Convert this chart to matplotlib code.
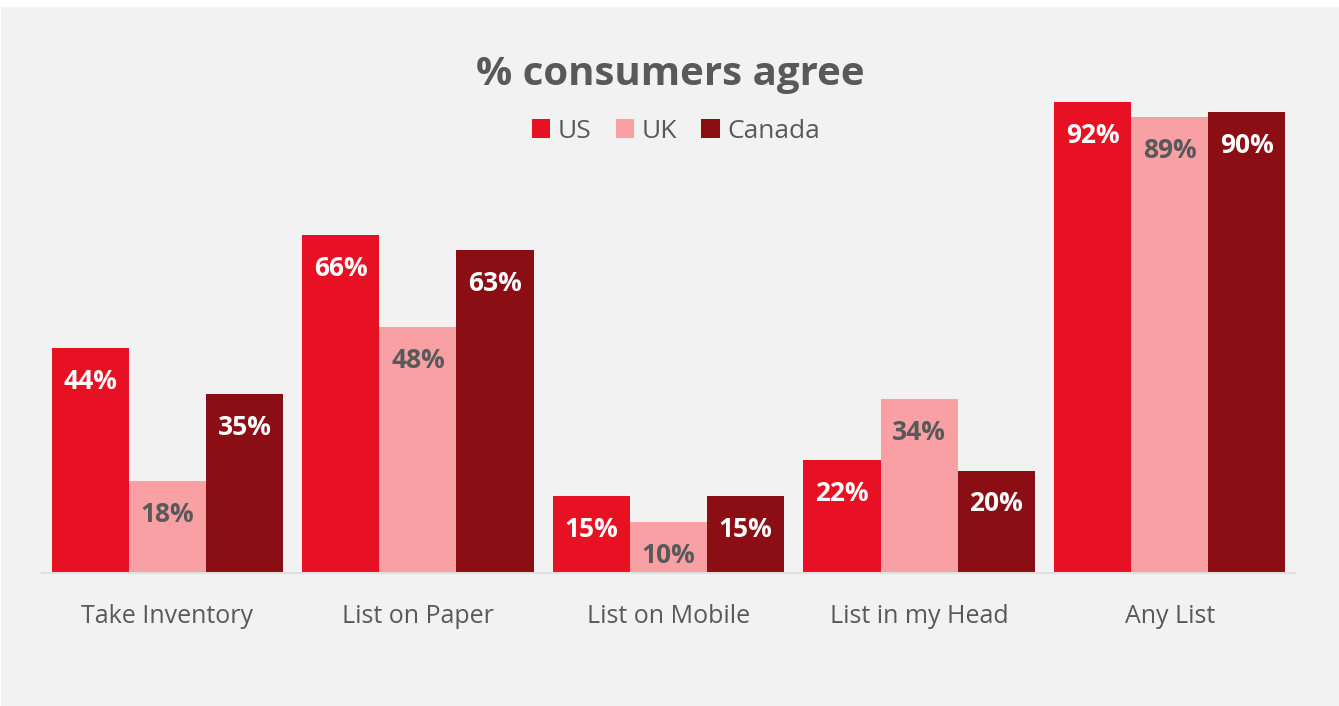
import numpy as np
import matplotlib
matplotlib.use("Agg")
import matplotlib.pyplot as plt
from matplotlib.patches import Rectangle

plt.rcParams['font.family'] = ['Open Sans', 'DejaVu Sans']

categories = ['Take Inventory', 'List on Paper', 'List on Mobile', 'List in my Head', 'Any List']
series = ['US', 'UK', 'Canada']
us = [44, 66, 15, 22, 92]
uk = [18, 48, 10, 34, 89]
canada = [35, 63, 15, 20, 90]

colors = ['#E81123', '#F8A0A4', '#8B0E14']
label_colors = ['white', '#595959', 'white']
text_grey = '#595959'

W, H = 1339, 706
fig = plt.figure(figsize=(W / 100, H / 100), dpi=100)
fig.patch.set_facecolor('white')
# grey card behind the chart
fig.patches.append(Rectangle((1 / W, 0), 1, 1 - 7 / H, transform=fig.transFigure,
                             facecolor='#F2F2F2', edgecolor='none', zorder=-10))

ax = fig.add_axes([42 / W, (H - 573) / H, (1295 - 42) / W, (573 - 61) / H])
ax.set_facecolor('none')

x = np.arange(len(categories))
width = 0.308
for i, (vals, name) in enumerate(zip([us, uk, canada], series)):
    pos = x + (i - 1) * width
    bars = ax.bar(pos, vals, width=width, color=colors[i], label=name, zorder=2)
    for b, v in zip(bars, vals):
        ax.annotate(f'{v}%', (b.get_x() + b.get_width() / 2, v),
                    xytext=(0, -24), textcoords='offset points',
                    ha='center', va='center', fontsize=19, fontweight='bold',
                    color=label_colors[i])

ax.set_xlim(-0.5, len(categories) - 0.5)
ax.set_ylim(0, 100)
ax.set_yticks([])
ax.set_xticks(x)
ax.set_xticklabels(categories, fontsize=18, color=text_grey)
ax.tick_params(axis='x', length=0, pad=22)
for s in ['top', 'right', 'left']:
    ax.spines[s].set_visible(False)
ax.spines['bottom'].set_color('#E0E0E0')
ax.spines['bottom'].set_linewidth(1.5)

fig.text(670 / W, 1 - 75 / H, '% consumers agree', ha='center', va='center',
         fontsize=29, fontweight='bold', color=text_grey)

fig.legend(loc='center', bbox_to_anchor=(676 / W, 1 - 131 / H), ncol=3,
           frameon=False, fontsize=19, labelcolor=text_grey,
           handlelength=0.7, handleheight=0.7, handletextpad=0.3,
           columnspacing=0.9)

fig.savefig('out.png', dpi=100, facecolor=fig.get_facecolor())
